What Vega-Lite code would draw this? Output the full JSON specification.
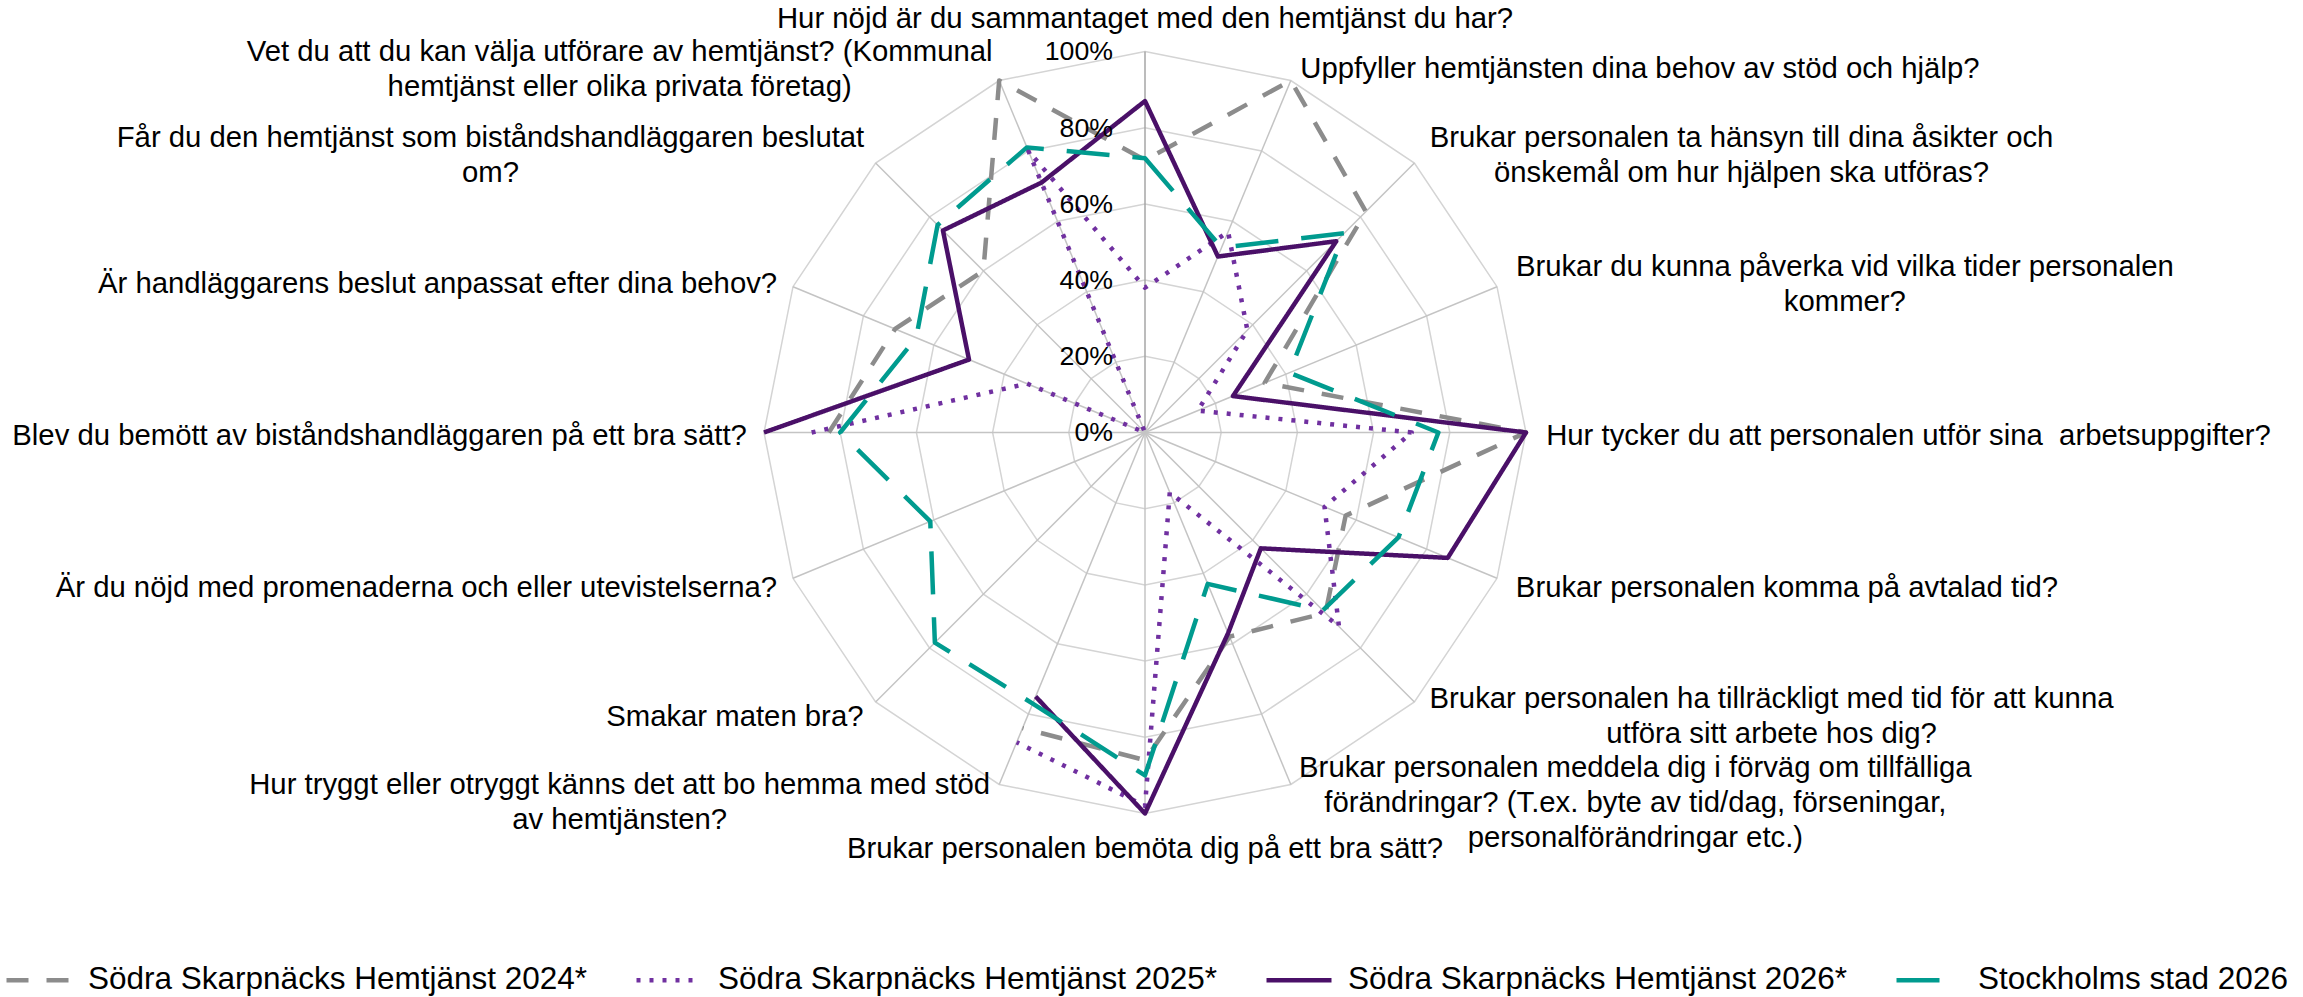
{
  "$schema": "https://vega.github.io/schema/vega-lite/v6.json",
  "width": 2303,
  "height": 997,
  "autosize": "none",
  "padding": 0,
  "background": "white",
  "config": {
    "view": {"stroke": null},
    "font": "Liberation Sans",
    "legend": {
      "symbolType": "stroke",
      "symbolSize": 4225,
      "symbolStrokeWidth": 4.5,
      "labelFontSize": 31.5,
      "labelFont": "Liberation Sans",
      "labelColor": "#000000",
      "labelOffset": 14,
      "columnPadding": 39,
      "labelLimit": 0,
      "padding": 0
    },
    "text": {"fontSize": 29.3, "lineHeight": 35, "lineBreak": "\n", "color": "#000000", "baseline": "middle"}
  },
  "datasets": {
    "series": [
      {"serie": "Södra Skarpnäcks Hemtjänst 2024*", "k": 0, "v": 0.715},
      {"serie": "Södra Skarpnäcks Hemtjänst 2024*", "k": 1, "v": 1.0},
      {"serie": "Södra Skarpnäcks Hemtjänst 2024*", "k": 2, "v": 0.82},
      {"serie": "Södra Skarpnäcks Hemtjänst 2024*", "k": 3, "v": 0.34},
      {"serie": "Södra Skarpnäcks Hemtjänst 2024*", "k": 4, "v": 1.0},
      {"serie": "Södra Skarpnäcks Hemtjänst 2024*", "k": 5, "v": 0.57},
      {"serie": "Södra Skarpnäcks Hemtjänst 2024*", "k": 6, "v": 0.67},
      {"serie": "Södra Skarpnäcks Hemtjänst 2024*", "k": 7, "v": 0.58},
      {"serie": "Södra Skarpnäcks Hemtjänst 2024*", "k": 8, "v": 0.86},
      {"serie": "Södra Skarpnäcks Hemtjänst 2024*", "k": 9, "v": 0.84},
      {"serie": "Södra Skarpnäcks Hemtjänst 2024*", "k": 12, "v": 0.83},
      {"serie": "Södra Skarpnäcks Hemtjänst 2024*", "k": 13, "v": 0.71},
      {"serie": "Södra Skarpnäcks Hemtjänst 2024*", "k": 14, "v": 0.6},
      {"serie": "Södra Skarpnäcks Hemtjänst 2024*", "k": 15, "v": 1.0},
      {"serie": "Södra Skarpnäcks Hemtjänst 2025*", "k": 0, "v": 0.38},
      {"serie": "Södra Skarpnäcks Hemtjänst 2025*", "k": 1, "v": 0.57},
      {"serie": "Södra Skarpnäcks Hemtjänst 2025*", "k": 2, "v": 0.38},
      {"serie": "Södra Skarpnäcks Hemtjänst 2025*", "k": 3, "v": 0.15},
      {"serie": "Södra Skarpnäcks Hemtjänst 2025*", "k": 4, "v": 0.7},
      {"serie": "Södra Skarpnäcks Hemtjänst 2025*", "k": 5, "v": 0.51},
      {"serie": "Södra Skarpnäcks Hemtjänst 2025*", "k": 6, "v": 0.72},
      {"serie": "Södra Skarpnäcks Hemtjänst 2025*", "k": 7, "v": 0.17},
      {"serie": "Södra Skarpnäcks Hemtjänst 2025*", "k": 8, "v": 0.98},
      {"serie": "Södra Skarpnäcks Hemtjänst 2025*", "k": 9, "v": 0.88},
      {"serie": "Södra Skarpnäcks Hemtjänst 2025*", "k": 12, "v": 0.875},
      {"serie": "Södra Skarpnäcks Hemtjänst 2025*", "k": 13, "v": 0.335},
      {"serie": "Södra Skarpnäcks Hemtjänst 2025*", "k": 14, "v": 0.0},
      {"serie": "Södra Skarpnäcks Hemtjänst 2025*", "k": 15, "v": 0.8},
      {"serie": "Södra Skarpnäcks Hemtjänst 2026*", "k": 0, "v": 0.87},
      {"serie": "Södra Skarpnäcks Hemtjänst 2026*", "k": 1, "v": 0.5},
      {"serie": "Södra Skarpnäcks Hemtjänst 2026*", "k": 2, "v": 0.71},
      {"serie": "Södra Skarpnäcks Hemtjänst 2026*", "k": 3, "v": 0.25},
      {"serie": "Södra Skarpnäcks Hemtjänst 2026*", "k": 4, "v": 1.0},
      {"serie": "Södra Skarpnäcks Hemtjänst 2026*", "k": 5, "v": 0.86},
      {"serie": "Södra Skarpnäcks Hemtjänst 2026*", "k": 6, "v": 0.43},
      {"serie": "Södra Skarpnäcks Hemtjänst 2026*", "k": 7, "v": 0.57},
      {"serie": "Södra Skarpnäcks Hemtjänst 2026*", "k": 8, "v": 1.0},
      {"serie": "Södra Skarpnäcks Hemtjänst 2026*", "k": 9, "v": 0.75},
      {"serie": "Södra Skarpnäcks Hemtjänst 2026*", "k": 12, "v": 1.0},
      {"serie": "Södra Skarpnäcks Hemtjänst 2026*", "k": 13, "v": 0.5},
      {"serie": "Södra Skarpnäcks Hemtjänst 2026*", "k": 14, "v": 0.75},
      {"serie": "Södra Skarpnäcks Hemtjänst 2026*", "k": 15, "v": 0.71},
      {"serie": "Stockholms stad 2026", "k": 0, "v": 0.72},
      {"serie": "Stockholms stad 2026", "k": 1, "v": 0.525},
      {"serie": "Stockholms stad 2026", "k": 2, "v": 0.74},
      {"serie": "Stockholms stad 2026", "k": 3, "v": 0.41},
      {"serie": "Stockholms stad 2026", "k": 4, "v": 0.77},
      {"serie": "Stockholms stad 2026", "k": 5, "v": 0.72},
      {"serie": "Stockholms stad 2026", "k": 6, "v": 0.66},
      {"serie": "Stockholms stad 2026", "k": 7, "v": 0.43},
      {"serie": "Stockholms stad 2026", "k": 8, "v": 0.9},
      {"serie": "Stockholms stad 2026", "k": 9, "v": 0.77},
      {"serie": "Stockholms stad 2026", "k": 10, "v": 0.78},
      {"serie": "Stockholms stad 2026", "k": 11, "v": 0.61},
      {"serie": "Stockholms stad 2026", "k": 12, "v": 0.8},
      {"serie": "Stockholms stad 2026", "k": 13, "v": 0.65},
      {"serie": "Stockholms stad 2026", "k": 14, "v": 0.77},
      {"serie": "Stockholms stad 2026", "k": 15, "v": 0.81}
    ],
    "questions": [
      {"k": 0, "q": "Hur nöjd är du sammantaget med den hemtjänst du har?"},
      {"k": 1, "q": "Uppfyller hemtjänsten dina behov av stöd och hjälp?"},
      {"k": 2, "q": "Brukar personalen ta hänsyn till dina åsikter och\nönskemål om hur hjälpen ska utföras?"},
      {"k": 3, "q": "Brukar du kunna påverka vid vilka tider personalen\nkommer?"},
      {"k": 4, "q": "Hur tycker du att personalen utför sina \u00a0arbetsuppgifter?"},
      {"k": 5, "q": "Brukar personalen komma på avtalad tid?"},
      {"k": 6, "q": "Brukar personalen ha tillräckligt med tid för att kunna\nutföra sitt arbete hos dig?"},
      {"k": 7, "q": "Brukar personalen meddela dig i förväg om tillfälliga\nförändringar? (T.ex. byte av tid/dag, förseningar,\npersonalförändringar etc.)"},
      {"k": 8, "q": "Brukar personalen bemöta dig på ett bra sätt?"},
      {"k": 9, "q": "Hur tryggt eller otryggt känns det att bo hemma med stöd\nav hemtjänsten?"},
      {"k": 10, "q": "Smakar maten bra?"},
      {"k": 11, "q": "Är du nöjd med promenaderna och eller utevistelserna?"},
      {"k": 12, "q": "Blev du bemött av biståndshandläggaren på ett bra sätt?"},
      {"k": 13, "q": "Är handläggarens beslut anpassat efter dina behov?"},
      {"k": 14, "q": "Får du den hemtjänst som biståndshandläggaren beslutat\nom?"},
      {"k": 15, "q": "Vet du att du kan välja utförare av hemtjänst? (Kommunal\nhemtjänst eller olika privata företag)"}
    ],
    "rings": [
      {"r": 0.2, "ks": [0,1,2,3,4,5,6,7,8,9,10,11,12,13,14,15]},
      {"r": 0.4, "ks": [0,1,2,3,4,5,6,7,8,9,10,11,12,13,14,15]},
      {"r": 0.6, "ks": [0,1,2,3,4,5,6,7,8,9,10,11,12,13,14,15]},
      {"r": 0.8, "ks": [0,1,2,3,4,5,6,7,8,9,10,11,12,13,14,15]},
      {"r": 1.0, "ks": [0,1,2,3,4,5,6,7,8,9,10,11,12,13,14,15]}
    ],
    "ticks": [
      {"t": 0, "label": "0%"},
      {"t": 0.2, "label": "20%"},
      {"t": 0.4, "label": "40%"},
      {"t": 0.6, "label": "60%"},
      {"t": 0.8, "label": "80%"},
      {"t": 1.0, "label": "100%"}
    ]
  },
  "encoding": {
    "x": {"field": "px", "type": "quantitative", "scale": {"domain": [-3.00525, 3.03937], "nice": false, "zero": false}, "axis": null},
    "y": {"field": "py", "type": "quantitative", "scale": {"domain": [-1.48163, 1.13517], "nice": false, "zero": false}, "axis": null}
  },
  "layer": [
    {
      "data": {"name": "rings"},
      "transform": [
        {"flatten": ["ks"], "as": ["k"]},
        {"calculate": "datum.r*sin(datum.k*PI/8)", "as": "px"},
        {"calculate": "datum.r*cos(datum.k*PI/8)", "as": "py"}
      ],
      "mark": {"type": "line", "interpolate": "linear-closed", "color": "#d4d4d4", "strokeWidth": 1.5},
      "encoding": {"detail": {"field": "r", "type": "nominal"}, "order": {"field": "k", "type": "quantitative"}}
    },
    {
      "data": {"name": "questions"},
      "transform": [
        {"calculate": "0", "as": "px"},
        {"calculate": "0", "as": "py"},
        {"calculate": "sin(datum.k*PI/8)", "as": "ex"},
        {"calculate": "cos(datum.k*PI/8)", "as": "ey"}
      ],
      "mark": {"type": "rule", "strokeWidth": 1.5},
      "encoding": {
        "x2": {"field": "ex"},
        "y2": {"field": "ey"},
        "color": {"condition": {"test": "datum.k == 0", "value": "#a6a6a6"}, "value": "#c4c4c4"}
      }
    },
    {
      "data": {"name": "series"},
      "transform": [
        {"filter": "datum.serie != 'Stockholms stad 2026'"},
        {"calculate": "datum.v*sin(datum.k*PI/8)", "as": "px"},
        {"calculate": "datum.v*cos(datum.k*PI/8)", "as": "py"},
        {"calculate": "(datum.k+4)%16", "as": "ord"}
      ],
      "mark": {"type": "line", "strokeWidth": 4.5, "strokeJoin": "round"},
      "encoding": {
        "color": {
          "field": "serie", "type": "nominal",
          "scale": {
            "domain": ["Södra Skarpnäcks Hemtjänst 2024*", "Södra Skarpnäcks Hemtjänst 2025*", "Södra Skarpnäcks Hemtjänst 2026*", "Stockholms stad 2026"],
            "range": ["#8c8c8c", "#7030a0", "#4a1068", "#009b8f"]
          },
          "legend": {"title": null, "orient": "none", "legendX": 4, "legendY": 945, "direction": "horizontal"}
        },
        "strokeDash": {
          "field": "serie", "type": "nominal",
          "scale": {
            "domain": ["Södra Skarpnäcks Hemtjänst 2024*", "Södra Skarpnäcks Hemtjänst 2025*", "Södra Skarpnäcks Hemtjänst 2026*", "Stockholms stad 2026"],
            "range": [[22, 18], [4, 9], [1, 0], [43, 23]]
          },
          "legend": {"title": null, "orient": "none", "legendX": 4, "legendY": 945, "direction": "horizontal"}
        },
        "order": {"field": "ord", "type": "quantitative"}
      }
    },
    {
      "data": {"name": "series"},
      "transform": [
        {"filter": "datum.serie == 'Stockholms stad 2026'"},
        {"calculate": "datum.v*sin(datum.k*PI/8)", "as": "px"},
        {"calculate": "datum.v*cos(datum.k*PI/8)", "as": "py"}
      ],
      "mark": {"type": "line", "strokeWidth": 4.5, "strokeJoin": "round", "interpolate": "linear-closed"},
      "encoding": {
        "color": {
          "field": "serie", "type": "nominal",
          "scale": {
            "domain": ["Södra Skarpnäcks Hemtjänst 2024*", "Södra Skarpnäcks Hemtjänst 2025*", "Södra Skarpnäcks Hemtjänst 2026*", "Stockholms stad 2026"],
            "range": ["#8c8c8c", "#7030a0", "#4a1068", "#009b8f"]
          },
          "legend": {"title": null, "orient": "none", "legendX": 4, "legendY": 945, "direction": "horizontal"}
        },
        "strokeDash": {
          "field": "serie", "type": "nominal",
          "scale": {
            "domain": ["Södra Skarpnäcks Hemtjänst 2024*", "Södra Skarpnäcks Hemtjänst 2025*", "Södra Skarpnäcks Hemtjänst 2026*", "Stockholms stad 2026"],
            "range": [[22, 18], [4, 9], [1, 0], [43, 23]]
          },
          "legend": {"title": null, "orient": "none", "legendX": 4, "legendY": 945, "direction": "horizontal"}
        },
        "order": {"field": "k", "type": "quantitative"}
      }
    },
    {
      "data": {"name": "ticks"},
      "transform": [
        {"calculate": "0", "as": "px"},
        {"calculate": "datum.t", "as": "py"}
      ],
      "mark": {"type": "text", "align": "right", "baseline": "middle", "dx": -32, "dy": 1, "fontSize": 26.7, "color": "#000000"},
      "encoding": {"text": {"field": "label"}}
    },
    {
      "data": {"name": "questions"},
      "transform": [
        {"filter": {"field": "k", "oneOf": [1, 4, 5]}},
        {"calculate": "1.045*sin(datum.k*PI/8)", "as": "px"},
        {"calculate": "1.042*cos(datum.k*PI/8) - 0.0092", "as": "py"}
      ],
      "mark": {"type": "text", "align": "left", "dx": 3},
      "encoding": {"text": {"field": "q"}}
    },
    {
      "data": {"name": "questions"},
      "transform": [
        {"filter": "datum.k == 2"},
        {"calculate": "split(datum.q, '\\n').length", "as": "nl"},
        {"calculate": "1.045*sin(datum.k*PI/8)", "as": "px"},
        {"calculate": "1.042*cos(datum.k*PI/8) - 0.0092 + (datum.nl-1)*17.5/381", "as": "py"}
      ],
      "mark": {"type": "text", "align": "center", "dx": 315},
      "encoding": {"text": {"field": "q"}}
    },
    {
      "data": {"name": "questions"},
      "transform": [
        {"filter": "datum.k == 3"},
        {"calculate": "split(datum.q, '\\n').length", "as": "nl"},
        {"calculate": "1.045*sin(datum.k*PI/8)", "as": "px"},
        {"calculate": "1.042*cos(datum.k*PI/8) - 0.0092 + (datum.nl-1)*17.5/381", "as": "py"}
      ],
      "mark": {"type": "text", "align": "center", "dx": 332},
      "encoding": {"text": {"field": "q"}}
    },
    {
      "data": {"name": "questions"},
      "transform": [
        {"filter": "datum.k == 6"},
        {"calculate": "split(datum.q, '\\n').length", "as": "nl"},
        {"calculate": "1.045*sin(datum.k*PI/8)", "as": "px"},
        {"calculate": "1.042*cos(datum.k*PI/8) - 0.0092 + (datum.nl-1)*17.5/381", "as": "py"}
      ],
      "mark": {"type": "text", "align": "center", "dx": 345},
      "encoding": {"text": {"field": "q"}}
    },
    {
      "data": {"name": "questions"},
      "transform": [
        {"filter": "datum.k == 7"},
        {"calculate": "split(datum.q, '\\n').length", "as": "nl"},
        {"calculate": "1.045*sin(datum.k*PI/8)", "as": "px"},
        {"calculate": "1.042*cos(datum.k*PI/8) - 0.0092 + (datum.nl-1)*17.5/381", "as": "py"}
      ],
      "mark": {"type": "text", "align": "center", "dx": 338},
      "encoding": {"text": {"field": "q"}}
    },
    {
      "data": {"name": "questions"},
      "transform": [
        {"filter": {"field": "k", "oneOf": [10, 11, 12, 13]}},
        {"calculate": "1.045*sin(datum.k*PI/8)", "as": "px"},
        {"calculate": "1.042*cos(datum.k*PI/8) - 0.0092", "as": "py"}
      ],
      "mark": {"type": "text", "align": "right"},
      "encoding": {"text": {"field": "q"}}
    },
    {
      "data": {"name": "questions"},
      "transform": [
        {"filter": {"field": "k", "oneOf": [9, 14, 15]}},
        {"calculate": "split(datum.q, '\\n').length", "as": "nl"},
        {"calculate": "1.045*sin(datum.k*PI/8)", "as": "px"},
        {"calculate": "1.042*cos(datum.k*PI/8) - 0.0092 + (datum.nl-1)*17.5/381", "as": "py"}
      ],
      "mark": {"type": "text", "align": "center", "dx": -373},
      "encoding": {"text": {"field": "q"}}
    },
    {
      "data": {"name": "questions"},
      "transform": [
        {"filter": "datum.k == 0"},
        {"calculate": "0", "as": "px"},
        {"calculate": "1.0328", "as": "py"}
      ],
      "mark": {"type": "text", "align": "center", "dy": -20},
      "encoding": {"text": {"field": "q"}}
    },
    {
      "data": {"name": "questions"},
      "transform": [
        {"filter": "datum.k == 8"},
        {"calculate": "0", "as": "px"},
        {"calculate": "-1.0512", "as": "py"}
      ],
      "mark": {"type": "text", "align": "center", "dy": 16},
      "encoding": {"text": {"field": "q"}}
    }
  ]
}
